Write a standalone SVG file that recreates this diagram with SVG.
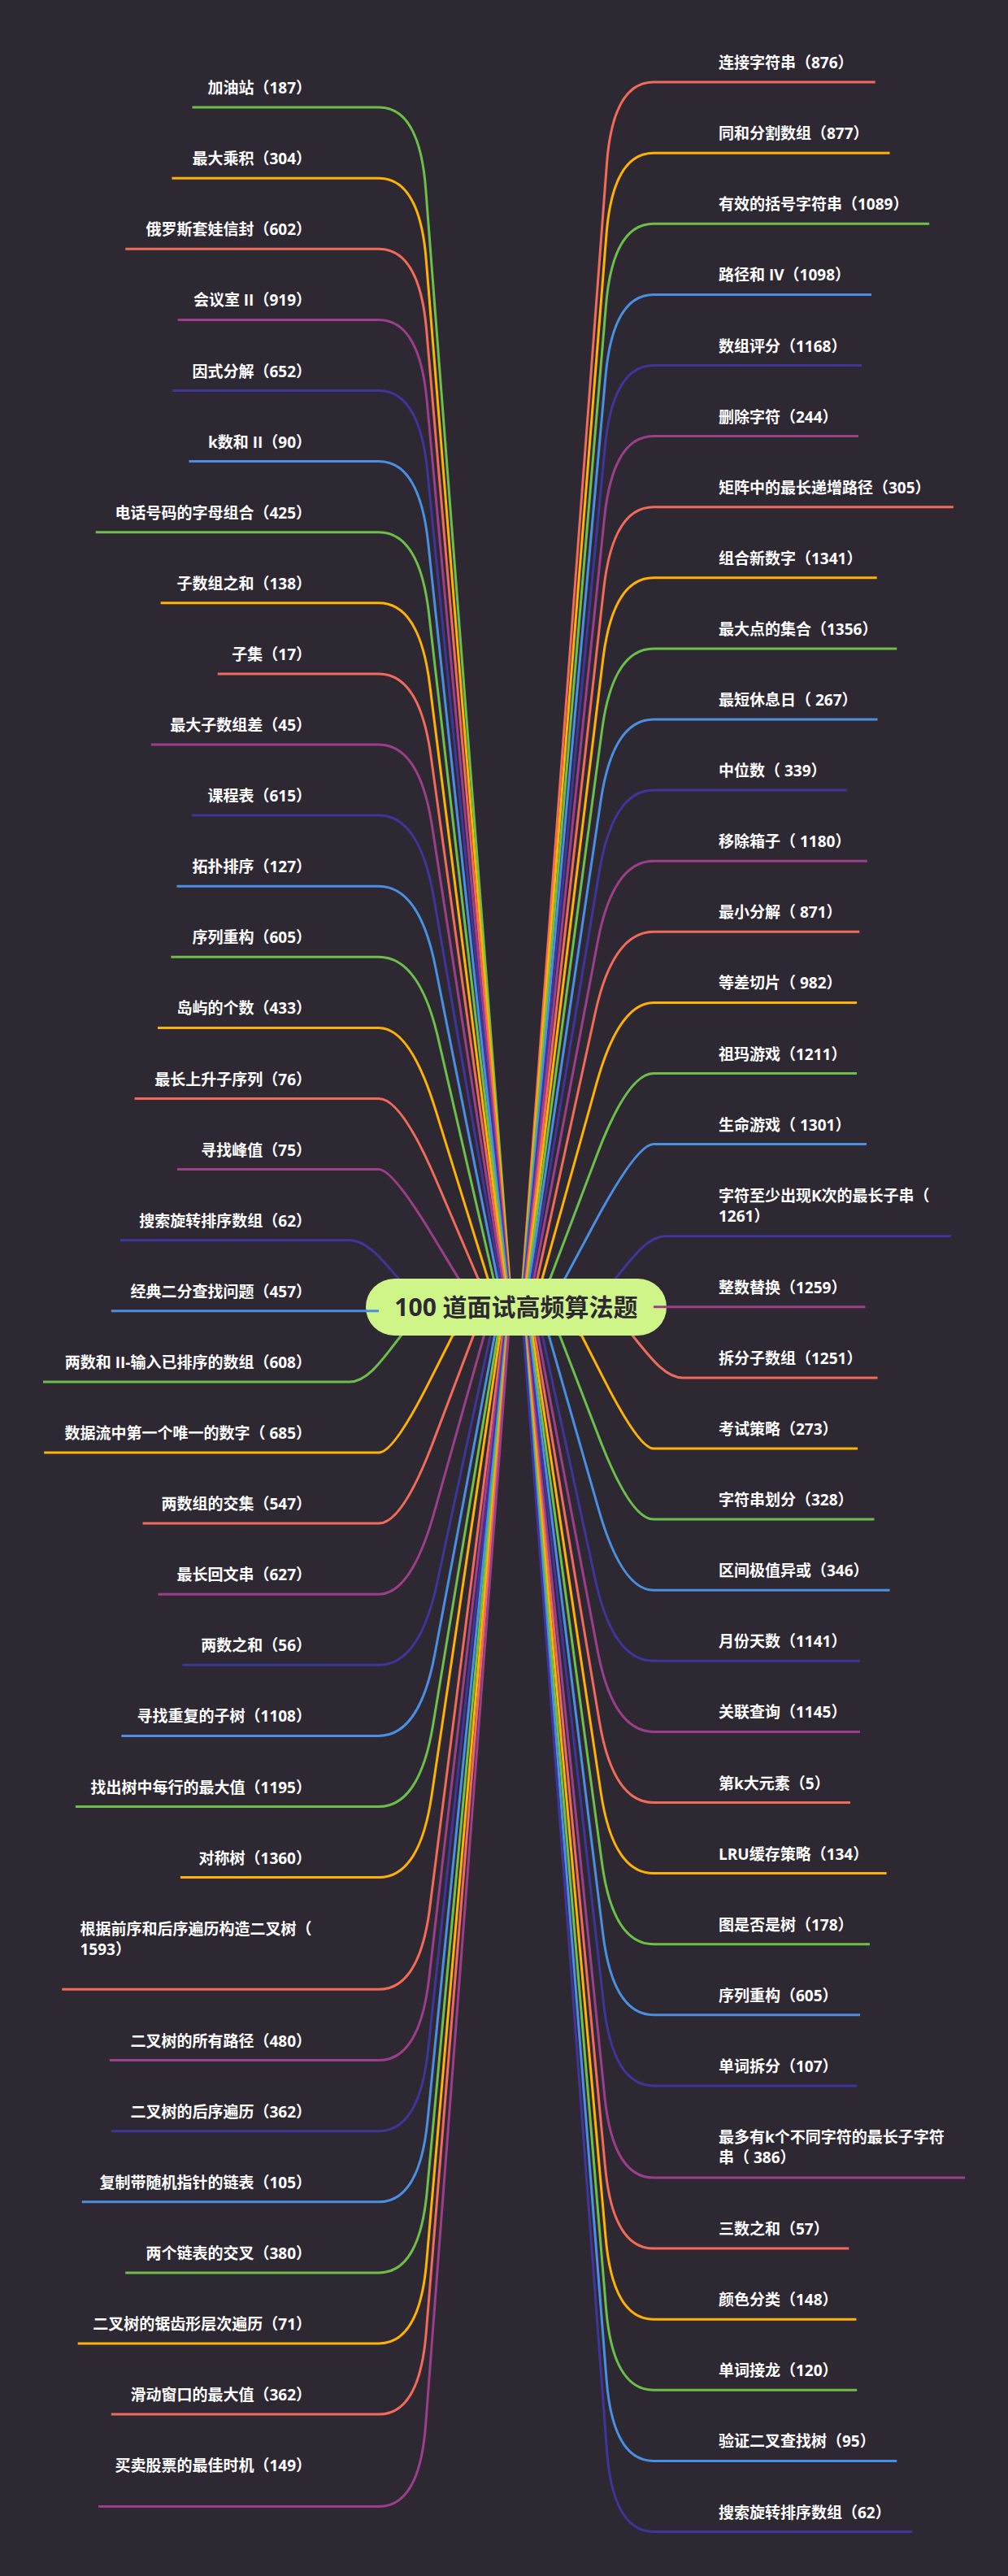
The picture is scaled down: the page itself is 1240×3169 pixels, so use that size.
<svg xmlns="http://www.w3.org/2000/svg" width="1240" height="3169" viewBox="0 0 1240 3169">
<style>
.c path,.n line{fill:none;stroke-width:3}
.r{stroke:#F26B5A}.y{stroke:#FFB300}.g{stroke:#6CC04A}.b{stroke:#4A90E2}.i{stroke:#3F359B}.p{stroke:#9B3F8B}
.t{font-family:"Open Sans","Noto Sans CJK SC",sans-serif;font-size:19px;font-weight:700;fill:#FFFFFF}
.lt{text-anchor:end}
.root{font-family:"Open Sans","Noto Sans CJK SC",sans-serif;font-size:30px;font-weight:700;fill:#2E2833;text-anchor:middle}
</style>
<rect width="1240" height="3169" fill="#2E2833"/>
<g id="connectors" class="c">
<path class="g" d="M635 1608L626.9 1573L523.7 232.1Q516 132.1 466 132.1"/>
<path class="y" d="M635 1608L626.4 1573L524.2 319.2Q516 219.2 466 219.2"/>
<path class="r" d="M635 1608L625.8 1573L524.7 406.3Q516 306.3 466 306.3"/>
<path class="p" d="M635 1608L625.1 1573L525.2 493.4Q516 393.4 466 393.4"/>
<path class="i" d="M635 1608L624.4 1573L525.9 580.5Q516 480.5 466 480.5"/>
<path class="b" d="M635 1608L623.5 1573L526.7 667.6Q516 567.6 466 567.6"/>
<path class="g" d="M635 1608L622.4 1573L527.6 754.7Q516 654.7 466 654.7"/>
<path class="y" d="M635 1608L621.1 1573L528.6 841.8Q516 741.8 466 741.8"/>
<path class="r" d="M635 1608L619.6 1573L529.9 928.9Q516 828.9 466 828.9"/>
<path class="p" d="M635 1608L617.7 1573L531.5 1016Q516 916 466 916"/>
<path class="i" d="M635 1608L615.2 1573L533.4 1103.1Q516 1003.1 466 1003.1"/>
<path class="b" d="M635 1608L611.8 1573L535.8 1190.2Q516 1090.2 466 1090.2"/>
<path class="g" d="M635 1608L607.1 1573L539 1277.3Q516 1177.3 466 1177.3"/>
<path class="y" d="M635 1608L600.1 1573L535.5 1364.4Q504.6 1264.4 466 1264.4"/>
<path class="r" d="M635 1608L588.2 1573L536.4 1451.5Q493.7 1351.5 466 1351.5"/>
<path class="p" d="M635 1608L564.2 1573L531.6 1519.2Q482.8 1438.6 466 1438.6"/>
<path class="i" d="M635 1608L540 1608C500 1608 470 1525.7 430 1525.7"/>
<path class="b" d="M635 1612.8L466 1612.8"/>
<path class="g" d="M635 1608L540 1608C500 1608 470 1699.9 430 1699.9"/>
<path class="y" d="M635 1608L556.8 1643L527.7 1700.6Q484 1787 466 1787"/>
<path class="r" d="M635 1608L582.4 1643L532.8 1774.1Q494.9 1874.1 466 1874.1"/>
<path class="p" d="M635 1608L595.4 1643L534 1861.2Q505.8 1961.2 466 1961.2"/>
<path class="i" d="M635 1608L603.2 1643L537.5 1948.3Q516 2048.3 466 2048.3"/>
<path class="b" d="M635 1608L608.5 1643L534.8 2035.4Q516 2135.4 466 2135.4"/>
<path class="g" d="M635 1608L612.2 1643L532.6 2122.5Q516 2222.5 466 2222.5"/>
<path class="y" d="M635 1608L615 1643L530.9 2209.6Q516 2309.6 466 2309.6"/>
<path class="r" d="M635 1608L618.3 1643L528.7 2347.3Q516 2447.3 466 2447.3"/>
<path class="p" d="M635 1608L619.9 1643L527.7 2434.6Q516 2534.6 466 2534.6"/>
<path class="i" d="M635 1608L621.2 1643L526.7 2521.7Q516 2621.7 466 2621.7"/>
<path class="b" d="M635 1608L622.3 1643L526 2608.8Q516 2708.8 466 2708.8"/>
<path class="g" d="M635 1608L623.2 1643L525.3 2695.9Q516 2795.9 466 2795.9"/>
<path class="y" d="M635 1608L624 1643L524.7 2783Q516 2883 466 2883"/>
<path class="r" d="M635 1608L624.7 1643L524.2 2870.1Q516 2970.1 466 2970.1"/>
<path class="p" d="M635 1608L625.5 1643L523.6 2983.6Q516 3083.6 466 3083.6"/>
<path class="r" d="M635 1608L643 1573L746.5 201.1Q754 101.1 804 101.1"/>
<path class="y" d="M635 1608L643.5 1573L746 288.2Q754 188.2 804 188.2"/>
<path class="g" d="M635 1608L644 1573L745.5 375.3Q754 275.3 804 275.3"/>
<path class="b" d="M635 1608L644.6 1573L745 462.4Q754 362.4 804 362.4"/>
<path class="i" d="M635 1608L645.4 1573L744.3 549.5Q754 449.5 804 449.5"/>
<path class="p" d="M635 1608L646.2 1573L743.6 636.6Q754 536.6 804 536.6"/>
<path class="r" d="M635 1608L647.2 1573L742.8 723.7Q754 623.7 804 623.7"/>
<path class="y" d="M635 1608L648.4 1573L741.8 810.8Q754 710.8 804 710.8"/>
<path class="g" d="M635 1608L649.8 1573L740.6 897.9Q754 797.9 804 797.9"/>
<path class="b" d="M635 1608L651.6 1573L739.1 985Q754 885 804 885"/>
<path class="i" d="M635 1608L653.9 1573L737.3 1072.1Q754 972.1 804 972.1"/>
<path class="p" d="M635 1608L656.9 1573L735.1 1159.2Q754 1059.2 804 1059.2"/>
<path class="r" d="M635 1608L661 1573L732.2 1246.3Q754 1146.3 804 1146.3"/>
<path class="y" d="M635 1608L667 1573L733.7 1333.4Q761.5 1233.4 804 1233.4"/>
<path class="g" d="M635 1608L676.7 1573L734.5 1420.5Q772.4 1320.5 804 1320.5"/>
<path class="b" d="M635 1608L694.9 1573L730.3 1506.8Q783.3 1407.6 804 1407.6"/>
<path class="i" d="M635 1608L709 1608C749 1608 779 1520.7 819 1520.7"/>
<path class="p" d="M635 1607.8L804 1607.8"/>
<path class="r" d="M635 1608L730 1608C770 1608 800 1694.9 840 1694.9"/>
<path class="y" d="M635 1608L715.5 1643L743.9 1698.6Q786.6 1782 804 1782"/>
<path class="g" d="M635 1608L688.6 1643L737.2 1769.1Q775.7 1869.1 804 1869.1"/>
<path class="b" d="M635 1608L675.2 1643L736.2 1856.2Q764.8 1956.2 804 1956.2"/>
<path class="i" d="M635 1608L667.2 1643L732.3 1943.3Q754 2043.3 804 2043.3"/>
<path class="p" d="M635 1608L661.8 1643L735.1 2030.4Q754 2130.4 804 2130.4"/>
<path class="r" d="M635 1608L658 1643L737.3 2117.5Q754 2217.5 804 2217.5"/>
<path class="y" d="M635 1608L655.1 1643L739.1 2204.6Q754 2304.6 804 2304.6"/>
<path class="g" d="M635 1608L652.9 1643L740.5 2291.7Q754 2391.7 804 2391.7"/>
<path class="b" d="M635 1608L651.1 1643L741.7 2378.8Q754 2478.8 804 2478.8"/>
<path class="i" d="M635 1608L649.6 1643L742.7 2465.9Q754 2565.9 804 2565.9"/>
<path class="p" d="M635 1608L648.1 1643L743.8 2579Q754 2679 804 2679"/>
<path class="r" d="M635 1608L647.1 1643L744.5 2666.1Q754 2766.1 804 2766.1"/>
<path class="y" d="M635 1608L646.2 1643L745.1 2753.2Q754 2853.2 804 2853.2"/>
<path class="g" d="M635 1608L645.5 1643L745.6 2840.3Q754 2940.3 804 2940.3"/>
<path class="b" d="M635 1608L644.9 1643L746.1 2927.4Q754 3027.4 804 3027.4"/>
<path class="i" d="M635 1608L644.3 1643L746.5 3014.5Q754 3114.5 804 3114.5"/>
</g>
<g id="root"><rect x="450" y="1573" width="370" height="70" rx="35" fill="#CFF589"/><text class="root" x="635" y="1619">100 道面试高频算法题</text></g>
<g class="n">
<g id="L00"><line class="g" x1="236.5" y1="132.1" x2="466" y2="132.1"/><text class="t lt" x="383" y="115.1">加油站（187）</text></g>
<g id="L01"><line class="y" x1="211.5" y1="219.2" x2="466" y2="219.2"/><text class="t lt" x="383" y="202.2">最大乘积（304）</text></g>
<g id="L02"><line class="r" x1="154.2" y1="306.3" x2="466" y2="306.3"/><text class="t lt" x="383" y="289.3">俄罗斯套娃信封（602）</text></g>
<g id="L03"><line class="p" x1="218.7" y1="393.4" x2="466" y2="393.4"/><text class="t lt" x="383" y="376.4">会议室 II（919）</text></g>
<g id="L04"><line class="i" x1="212.3" y1="480.5" x2="466" y2="480.5"/><text class="t lt" x="383" y="463.5">因式分解（652）</text></g>
<g id="L05"><line class="b" x1="232.5" y1="567.6" x2="466" y2="567.6"/><text class="t lt" x="383" y="550.6">k数和 II（90）</text></g>
<g id="L06"><line class="g" x1="117.8" y1="654.7" x2="466" y2="654.7"/><text class="t lt" x="383" y="637.7">电话号码的字母组合（425）</text></g>
<g id="L07"><line class="y" x1="197.7" y1="741.8" x2="466" y2="741.8"/><text class="t lt" x="383" y="724.8">子数组之和（138）</text></g>
<g id="L08"><line class="r" x1="267.7" y1="828.9" x2="466" y2="828.9"/><text class="t lt" x="383" y="811.9">子集（17）</text></g>
<g id="L09"><line class="p" x1="185.8" y1="916" x2="466" y2="916"/><text class="t lt" x="383" y="899">最大子数组差（45）</text></g>
<g id="L10"><line class="i" x1="236.1" y1="1003.1" x2="466" y2="1003.1"/><text class="t lt" x="383" y="986.1">课程表（615）</text></g>
<g id="L11"><line class="b" x1="217.5" y1="1090.2" x2="466" y2="1090.2"/><text class="t lt" x="383" y="1073.2">拓扑排序（127）</text></g>
<g id="L12"><line class="g" x1="210.4" y1="1177.3" x2="466" y2="1177.3"/><text class="t lt" x="383" y="1160.3">序列重构（605）</text></g>
<g id="L13"><line class="y" x1="194" y1="1264.4" x2="466" y2="1264.4"/><text class="t lt" x="383" y="1247.4">岛屿的个数（433）</text></g>
<g id="L14"><line class="r" x1="165.6" y1="1351.5" x2="466" y2="1351.5"/><text class="t lt" x="383" y="1334.5">最长上升子序列（76）</text></g>
<g id="L15"><line class="p" x1="218" y1="1438.6" x2="466" y2="1438.6"/><text class="t lt" x="383" y="1421.6">寻找峰值（75）</text></g>
<g id="L16"><line class="i" x1="147.9" y1="1525.7" x2="430" y2="1525.7"/><text class="t lt" x="383" y="1508.7">搜索旋转排序数组（62）</text></g>
<g id="L17"><line class="b" x1="136.8" y1="1612.8" x2="466" y2="1612.8"/><text class="t lt" x="383" y="1595.8">经典二分查找问题（457）</text></g>
<g id="L18"><line class="g" x1="53" y1="1699.9" x2="430" y2="1699.9"/><text class="t lt" x="383" y="1682.9">两数和 II-输入已排序的数组（608）</text></g>
<g id="L19"><line class="y" x1="54.2" y1="1787" x2="466" y2="1787"/><text class="t lt" x="383" y="1770">数据流中第一个唯一的数字（ 685）</text></g>
<g id="L20"><line class="r" x1="175.6" y1="1874.1" x2="466" y2="1874.1"/><text class="t lt" x="383" y="1857.1">两数组的交集（547）</text></g>
<g id="L21"><line class="p" x1="194.5" y1="1961.2" x2="466" y2="1961.2"/><text class="t lt" x="383" y="1944.2">最长回文串（627）</text></g>
<g id="L22"><line class="i" x1="224.6" y1="2048.3" x2="466" y2="2048.3"/><text class="t lt" x="383" y="2031.3">两数之和（56）</text></g>
<g id="L23"><line class="b" x1="149.4" y1="2135.4" x2="466" y2="2135.4"/><text class="t lt" x="383" y="2118.4">寻找重复的子树（1108）</text></g>
<g id="L24"><line class="g" x1="92.9" y1="2222.5" x2="466" y2="2222.5"/><text class="t lt" x="383" y="2205.5">找出树中每行的最大值（1195）</text></g>
<g id="L25"><line class="y" x1="222" y1="2309.6" x2="466" y2="2309.6"/><text class="t lt" x="383" y="2292.6">对称树（1360）</text></g>
<g id="L26"><line class="r" x1="76.3" y1="2447.3" x2="466" y2="2447.3"/><text class="t" x="98.5" y="2379.6">根据前序和后序遍历构造二叉树（</text><text class="t" x="98.5" y="2405">1593）</text></g>
<g id="L27"><line class="p" x1="134.8" y1="2534.6" x2="466" y2="2534.6"/><text class="t lt" x="383" y="2517.6">二叉树的所有路径（480）</text></g>
<g id="L28"><line class="i" x1="136.8" y1="2621.7" x2="466" y2="2621.7"/><text class="t lt" x="383" y="2604.7">二叉树的后序遍历（362）</text></g>
<g id="L29"><line class="b" x1="100.8" y1="2708.8" x2="466" y2="2708.8"/><text class="t lt" x="383" y="2691.8">复制带随机指针的链表（105）</text></g>
<g id="L30"><line class="g" x1="154.2" y1="2795.9" x2="466" y2="2795.9"/><text class="t lt" x="383" y="2778.9">两个链表的交叉（380）</text></g>
<g id="L31"><line class="y" x1="95.7" y1="2883" x2="466" y2="2883"/><text class="t lt" x="383" y="2866">二叉树的锯齿形层次遍历（71）</text></g>
<g id="L32"><line class="r" x1="136.8" y1="2970.1" x2="466" y2="2970.1"/><text class="t lt" x="383" y="2953.1">滑动窗口的最大值（362）</text></g>
<g id="L33"><line class="p" x1="121" y1="3083.6" x2="466" y2="3083.6"/><text class="t lt" x="383" y="3040">买卖股票的最佳时机（149）</text></g>
<g id="R00"><line class="r" x1="804" y1="101.1" x2="1076.7" y2="101.1"/><text class="t" x="884" y="84.1">连接字符串（876）</text></g>
<g id="R01"><line class="y" x1="804" y1="188.2" x2="1094.5" y2="188.2"/><text class="t" x="884" y="171.2">同和分割数组（877）</text></g>
<g id="R02"><line class="g" x1="804" y1="275.3" x2="1143.1" y2="275.3"/><text class="t" x="884" y="258.3">有效的括号字符串（1089）</text></g>
<g id="R03"><line class="b" x1="804" y1="362.4" x2="1072" y2="362.4"/><text class="t" x="884" y="345.4">路径和 IV（1098）</text></g>
<g id="R04"><line class="i" x1="804" y1="449.5" x2="1060.1" y2="449.5"/><text class="t" x="884" y="432.5">数组评分（1168）</text></g>
<g id="R05"><line class="p" x1="804" y1="536.6" x2="1056.1" y2="536.6"/><text class="t" x="884" y="519.6">删除字符（244）</text></g>
<g id="R06"><line class="r" x1="804" y1="623.7" x2="1172.8" y2="623.7"/><text class="t" x="884" y="606.7">矩阵中的最长递增路径（305）</text></g>
<g id="R07"><line class="y" x1="804" y1="710.8" x2="1078.7" y2="710.8"/><text class="t" x="884" y="693.8">组合新数字（1341）</text></g>
<g id="R08"><line class="g" x1="804" y1="797.9" x2="1103.2" y2="797.9"/><text class="t" x="884" y="780.9">最大点的集合（1356）</text></g>
<g id="R09"><line class="b" x1="804" y1="885" x2="1079.5" y2="885"/><text class="t" x="884" y="868">最短休息日（ 267）</text></g>
<g id="R10"><line class="i" x1="804" y1="972.1" x2="1042.3" y2="972.1"/><text class="t" x="884" y="955.1">中位数（ 339）</text></g>
<g id="R11"><line class="p" x1="804" y1="1059.2" x2="1066.8" y2="1059.2"/><text class="t" x="884" y="1042.2">移除箱子（ 1180）</text></g>
<g id="R12"><line class="r" x1="804" y1="1146.3" x2="1057.3" y2="1146.3"/><text class="t" x="884" y="1129.3">最小分解（ 871）</text></g>
<g id="R13"><line class="y" x1="804" y1="1233.4" x2="1054" y2="1233.4"/><text class="t" x="884" y="1216.4">等差切片（ 982）</text></g>
<g id="R14"><line class="g" x1="804" y1="1320.5" x2="1054" y2="1320.5"/><text class="t" x="884" y="1303.5">祖玛游戏（1211）</text></g>
<g id="R15"><line class="b" x1="804" y1="1407.6" x2="1066" y2="1407.6"/><text class="t" x="884" y="1390.6">生命游戏（ 1301）</text></g>
<g id="R16"><line class="i" x1="819" y1="1520.7" x2="1169.6" y2="1520.7"/><text class="t" x="884" y="1477.7">字符至少出现K次的最长子串（</text><text class="t" x="884" y="1503.1">1261）</text></g>
<g id="R17"><line class="p" x1="804" y1="1607.8" x2="1064.4" y2="1607.8"/><text class="t" x="884" y="1590.8">整数替换（1259）</text></g>
<g id="R18"><line class="r" x1="840" y1="1694.9" x2="1079.5" y2="1694.9"/><text class="t" x="884" y="1677.9">拆分子数组（1251）</text></g>
<g id="R19"><line class="y" x1="804" y1="1782" x2="1055" y2="1782"/><text class="t" x="884" y="1765">考试策略（273）</text></g>
<g id="R20"><line class="g" x1="804" y1="1869.1" x2="1075.5" y2="1869.1"/><text class="t" x="884" y="1852.1">字符串划分（328）</text></g>
<g id="R21"><line class="b" x1="804" y1="1956.2" x2="1094.5" y2="1956.2"/><text class="t" x="884" y="1939.2">区间极值异或（346）</text></g>
<g id="R22"><line class="i" x1="804" y1="2043.3" x2="1058" y2="2043.3"/><text class="t" x="884" y="2026.3">月份天数（1141）</text></g>
<g id="R23"><line class="p" x1="804" y1="2130.4" x2="1058" y2="2130.4"/><text class="t" x="884" y="2113.4">关联查询（1145）</text></g>
<g id="R24"><line class="r" x1="804" y1="2217.5" x2="1046" y2="2217.5"/><text class="t" x="884" y="2200.5">第k大元素（5）</text></g>
<g id="R25"><line class="y" x1="804" y1="2304.6" x2="1090.5" y2="2304.6"/><text class="t" x="884" y="2287.6">LRU缓存策略（134）</text></g>
<g id="R26"><line class="g" x1="804" y1="2391.7" x2="1070" y2="2391.7"/><text class="t" x="884" y="2374.7">图是否是树（178）</text></g>
<g id="R27"><line class="b" x1="804" y1="2478.8" x2="1058" y2="2478.8"/><text class="t" x="884" y="2461.8">序列重构（605）</text></g>
<g id="R28"><line class="i" x1="804" y1="2565.9" x2="1054.2" y2="2565.9"/><text class="t" x="884" y="2548.9">单词拆分（107）</text></g>
<g id="R29"><line class="p" x1="804" y1="2679" x2="1187" y2="2679"/><text class="t" x="884" y="2636">最多有k个不同字符的最长子字符</text><text class="t" x="884" y="2661.4">串（ 386）</text></g>
<g id="R30"><line class="r" x1="804" y1="2766.1" x2="1044.3" y2="2766.1"/><text class="t" x="884" y="2749.1">三数之和（57）</text></g>
<g id="R31"><line class="y" x1="804" y1="2853.2" x2="1053.4" y2="2853.2"/><text class="t" x="884" y="2836.2">颜色分类（148）</text></g>
<g id="R32"><line class="g" x1="804" y1="2940.3" x2="1054.2" y2="2940.3"/><text class="t" x="884" y="2923.3">单词接龙（120）</text></g>
<g id="R33"><line class="b" x1="804" y1="3027.4" x2="1103.2" y2="3027.4"/><text class="t" x="884" y="3010.4">验证二叉查找树（95）</text></g>
<g id="R34"><line class="i" x1="804" y1="3114.5" x2="1122.2" y2="3114.5"/><text class="t" x="884" y="3097.5">搜索旋转排序数组（62）</text></g>
</g>
</svg>
